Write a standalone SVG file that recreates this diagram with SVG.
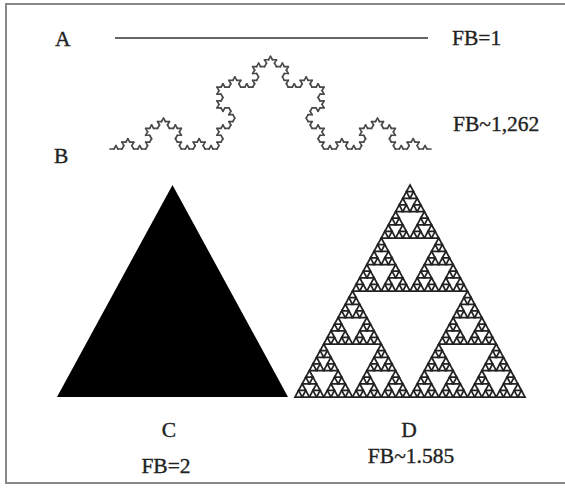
<svg xmlns="http://www.w3.org/2000/svg" xmlns:xlink="http://www.w3.org/1999/xlink" width="565" height="489" viewBox="0 0 565 489">
<style>
text{font-family:'Liberation Serif','Times New Roman','DejaVu Serif',serif;font-size:21.5px;fill:#222;stroke:#222;stroke-width:0.35}
.koch{stroke:#4a4a4a;stroke-width:1.7;stroke-linecap:round;fill:none}
.sier{fill:#fff;stroke:#222;stroke-width:1.75;stroke-linejoin:miter}
.frame{stroke:#888;stroke-width:2;fill:none}
</style>
<defs>
<line id="ks" x1="0" y1="0" x2="3.963" y2="0" class="koch"/>
<g id="k1"><use href="#ks"/><use href="#ks" transform="translate(3.963,0) rotate(-60)"/><use href="#ks" transform="translate(5.9444,-3.4320) rotate(60)"/><use href="#ks" transform="translate(7.9259,0)"/></g>
<g id="k2"><use href="#k1"/><use href="#k1" transform="translate(11.8889,0) rotate(-60)"/><use href="#k1" transform="translate(17.8333,-10.2961) rotate(60)"/><use href="#k1" transform="translate(23.7778,0)"/></g>
<g id="k3"><use href="#k2"/><use href="#k2" transform="translate(35.6667,0) rotate(-60)"/><use href="#k2" transform="translate(53.5,-30.8883) rotate(60)"/><use href="#k2" transform="translate(71.3333,0)"/></g>
<g id="k4"><use href="#k3"/><use href="#k3" transform="translate(107,0) rotate(-60)"/><use href="#k3" transform="translate(160.5,-92.6647) rotate(60)"/><use href="#k3" transform="translate(214,0)"/></g>
<path id="t5" d="M0,0 L3.59375,6.625 L-3.59375,6.625 Z" class="sier"/>
<g id="g4"><use href="#t5"/><use href="#t5" x="-3.59375" y="6.625"/><use href="#t5" x="3.59375" y="6.625"/></g>
<g id="g3"><use href="#g4"/><use href="#g4" x="-7.1875" y="13.25"/><use href="#g4" x="7.1875" y="13.25"/></g>
<g id="g2"><use href="#g3"/><use href="#g3" x="-14.375" y="26.5"/><use href="#g3" x="14.375" y="26.5"/></g>
<g id="g1"><use href="#g2"/><use href="#g2" x="-28.75" y="53"/><use href="#g2" x="28.75" y="53"/></g>
<g id="g0"><use href="#g1"/><use href="#g1" x="-57.5" y="106"/><use href="#g1" x="57.5" y="106"/></g>
</defs>
<rect width="565" height="489" fill="#fff"/>
<path class="frame" d="M565,4 H6 V483 H565"/>
<g id="nodeA">
<text x="55" y="46">A</text>
<line x1="115" y1="38" x2="428" y2="38" stroke="#666" stroke-width="1.8"/>
<text x="452" y="45">FB=1</text>
</g>
<g id="nodeB">
<text x="54" y="163">B</text>
<use href="#k4" transform="translate(110,149)"/>
<text x="453" y="131">FB~1,262</text>
</g>
<g id="nodeC">
<polygon points="172.5,185 57,397 288,397" fill="#000"/>
<text x="169" y="437" text-anchor="middle">C</text>
<text x="166" y="473" text-anchor="middle">FB=2</text>
</g>
<g id="nodeD">
<use href="#g0" transform="translate(410,185)"/>
<text x="409" y="437" text-anchor="middle">D</text>
<text x="411" y="463" text-anchor="middle">FB~1.585</text>
</g>
<g id="connectors"/>
</svg>
